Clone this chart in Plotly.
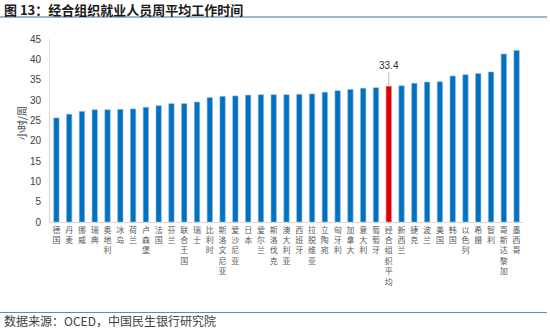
import plotly.graph_objects as go

countries = ["德国", "丹麦", "挪威", "瑞典", "奥地利", "冰岛", "荷兰", "卢森堡", "法国", "芬兰",
             "联合王国", "瑞士", "比利时", "斯洛文尼亚", "爱沙尼亚", "日本", "爱尔兰", "斯洛伐克",
             "澳大利亚", "西班牙", "拉脱维亚", "立陶宛", "匈牙利", "加拿大", "意大利", "葡萄牙",
             "经合组织平均", "新西兰", "捷克", "波兰", "美国", "韩国", "以色列", "希腊", "智利",
             "哥斯达黎加", "墨西哥"]
hours = [25.6, 26.5, 27.2, 27.6, 27.6, 27.7, 27.8, 28.2, 28.6, 29.1,
         29.1, 29.5, 30.6, 30.9, 31.0, 31.2, 31.3, 31.3,
         31.3, 31.4, 31.5, 31.9, 32.3, 32.6, 32.9, 33.0,
         33.4, 33.5, 34.1, 34.4, 34.5, 35.9, 36.2, 36.5, 36.9,
         41.3, 42.2]
highlight = "经合组织平均"
y_ticks = [0, 5, 10, 15, 20, 25, 30, 35, 40, 45]

BLUE = "#0070C0"
RED = "#E00000"
colors = [RED if c == highlight else BLUE for c in countries]
line_colors = ["#F08080" if c == highlight else "#8DB8E0" for c in countries]
tick_text = ["<br>".join(list(c)) for c in countries]

fig = go.Figure()
fig.add_trace(go.Bar(
    x=countries, y=hours,
    marker=dict(color=colors, line=dict(color=line_colors, width=0.6)),
    hoverinfo="x+y",
))

hi_idx = countries.index(highlight)
fig.add_annotation(
    x=countries[hi_idx], y=hours[hi_idx], xref="x", yref="y",
    text=f"{hours[hi_idx]}", showarrow=True, arrowhead=0, arrowwidth=1,
    arrowcolor="#BFBFBF", ax=0, ay=-21, standoff=1,
    font=dict(family="Arial, Liberation Sans", size=10, color="#333333"),
)

# layout geometry: plot area x 50..523, y 39..222
L, R, T, B = 50, 523, 39, 222
W, H = R - L, B - T
def px(x):
    return (x - L) / W
def py(y):
    return (B - y) / H

fig.add_annotation(
    text="<b>图 13：经合组织就业人员周平均工作时间</b>",
    xref="paper", yref="paper", x=px(2), y=py(9), xanchor="left", yanchor="middle",
    showarrow=False, font=dict(family="Noto Sans CJK SC", size=13, color="#1a1a1a"),
)
fig.add_annotation(
    text="数据来源：OCED，中国民生银行研究院",
    xref="paper", yref="paper", x=px(2), y=py(320), xanchor="left", yanchor="middle",
    showarrow=False, font=dict(family="Noto Sans CJK SC", size=12, color="#404040"),
)
fig.add_annotation(
    text="小时/周", textangle=-90,
    xref="paper", yref="paper", x=px(22), y=py(123), xanchor="center", yanchor="middle",
    showarrow=False, font=dict(family="Noto Sans CJK SC", size=10, color="#404040"),
)

fig.add_shape(type="line", xref="paper", yref="paper", x0=px(0), x1=px(547),
              y0=py(17), y1=py(17), line=dict(color="#7F9DB9", width=1.5))
fig.add_shape(type="line", xref="paper", yref="paper", x0=px(0), x1=px(547),
              y0=py(312.5), y1=py(312.5), line=dict(color="#5B8DC0", width=1.2))

fig.update_layout(
    width=550, height=332,
    margin=dict(l=L, r=550 - R, t=T, b=332 - B, autoexpand=False),
    paper_bgcolor="white", plot_bgcolor="white",
    showlegend=False, bargap=0.58,
    font=dict(family="Noto Sans CJK SC"),
)
fig.update_xaxes(
    type="category", tickmode="array", tickvals=countries, ticktext=tick_text,
    tickangle=0, tickfont=dict(family="Noto Sans CJK SC", size=8, color="#595959"),
    showline=True, linecolor="#D9D9D9", linewidth=1, showgrid=False, ticks="",
    range=[-0.5, len(countries) - 0.5], automargin=False,
)
fig.update_yaxes(
    range=[0, 45], tickvals=y_ticks, ticks="",
    tickfont=dict(family="Arial, Liberation Sans", size=10, color="#404040"),
    showline=True, linecolor="#D9D9D9", linewidth=1, showgrid=False,
    zeroline=False, automargin=False, ticklabelstandoff=6,
)

fig.write_html("out.html")
